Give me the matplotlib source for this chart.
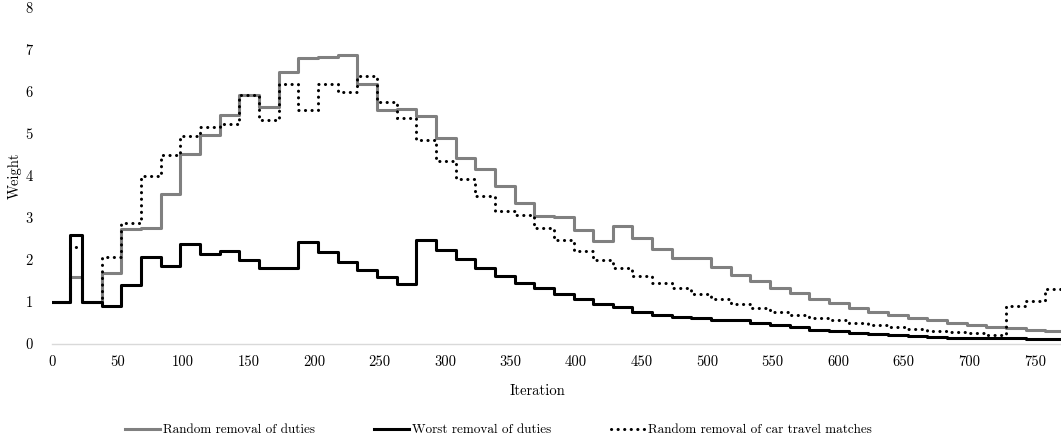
import matplotlib
matplotlib.use("Agg")
import matplotlib.pyplot as plt

plt.rcParams['font.family'] = ['cmr10', 'DejaVu Serif']
plt.rcParams['mathtext.fontset'] = 'cm'
plt.rcParams['axes.formatter.use_mathtext'] = True

# iteration at which each weight segment starts (last value = end of run)
iter_edges = [0, 14, 23, 38, 53, 68, 83, 98, 113, 128, 143, 158, 173, 188,
              203, 218, 233, 248, 263, 278, 293, 308, 323, 338, 353, 368,
              383, 398, 413, 428, 443, 458, 473, 488, 503, 518, 533, 548,
              563, 578, 593, 608, 623, 638, 653, 668, 683, 698, 713, 728,
              743, 758, 770]

random_duties = [1.0, 1.6, 1.0, 1.69, 2.74, 2.76, 3.58, 4.52, 4.98, 5.46,
                 5.92, 5.63, 6.47, 6.81, 6.84, 6.87, 6.18, 5.57, 5.59, 5.43,
                 4.90, 4.42, 4.16, 3.76, 3.36, 3.05, 3.03, 2.72, 2.45, 2.80,
                 2.52, 2.27, 2.05, 2.04, 1.83, 1.65, 1.49, 1.33, 1.20, 1.08,
                 0.97, 0.86, 0.77, 0.69, 0.61, 0.56, 0.49, 0.45, 0.41, 0.37,
                 0.34, 0.30]

worst_duties = [1.0, 2.6, 1.0, 0.9, 1.4, 2.07, 1.85, 2.37, 2.13, 2.22,
                2.0, 1.8, 1.8, 2.42, 2.18, 1.96, 1.77, 1.59, 1.43, 2.48,
                2.24, 2.01, 1.81, 1.62, 1.46, 1.32, 1.18, 1.06, 0.96, 0.87,
                0.77, 0.68, 0.64, 0.62, 0.57, 0.57, 0.49, 0.44, 0.39, 0.34,
                0.30, 0.26, 0.23, 0.21, 0.18, 0.17, 0.15, 0.13, 0.13, 0.13,
                0.11, 0.11]

random_car = [1.0, 2.3, 1.0, 2.08, 2.88, 4.0, 4.5, 4.95, 5.16, 5.24,
              5.92, 5.32, 6.18, 5.58, 6.2, 6.0, 6.39, 5.76, 5.38, 4.86,
              4.35, 3.92, 3.53, 3.16, 3.06, 2.75, 2.47, 2.22, 2.0, 1.80,
              1.62, 1.46, 1.32, 1.18, 1.06, 0.95, 0.85, 0.77, 0.69, 0.61,
              0.57, 0.50, 0.45, 0.40, 0.36, 0.31, 0.28, 0.25, 0.22, 0.90,
              1.03, 1.31]

labels = ['Random removal of duties', 'Worst removal of duties',
          'Random removal of car travel matches']

xticks = [0, 50, 100, 150, 200, 250, 300, 350, 400, 450, 500, 550, 600, 650, 700, 750]
yticks = [0, 1, 2, 3, 4, 5, 6, 7, 8]

fig = plt.figure(figsize=(10.61, 4.42), dpi=100)
ax = fig.add_axes([0.049, 0.222, 0.951, 0.76])

# step plots: repeat last value so the final segment reaches the end
ax.step(iter_edges, random_duties + random_duties[-1:], where='post',
        color='#808080', lw=2.2, label=labels[0])
ax.step(iter_edges, worst_duties + worst_duties[-1:], where='post',
        color='black', lw=2.2, label=labels[1])
ax.step(iter_edges, random_car + random_car[-1:], where='post',
        color='black', lw=2.2, linestyle=(0, (0.05, 2.1)),
        dash_capstyle='round', label=labels[2])

ax.set_xlim(0, 770)
ax.set_ylim(0, 8)
ax.set_xticks(xticks, [str(v) for v in xticks])
ax.set_yticks(yticks, [str(v) for v in yticks])
ax.tick_params(length=0, labelsize=10.5)
ax.tick_params(axis='x', pad=8)
ax.tick_params(axis='y', pad=14)
for s in ['left', 'right', 'top']:
    ax.spines[s].set_visible(False)
ax.spines['bottom'].set_color('#d9d9d9')
ax.spines['bottom'].set_linewidth(1.0)

ax.set_xlabel('Iteration', fontsize=10.5)
ax.xaxis.set_label_coords(0.481, -0.12)
ax.set_ylabel('Weight', fontsize=10.5)
ax.yaxis.set_label_coords(-0.03, 0.5)

fig.legend(loc='lower center', bbox_to_anchor=(0.47, -0.014), ncol=3, frameon=False,
           fontsize=9.5, handlelength=2.6, columnspacing=4.5, handletextpad=0.25)

fig.savefig('out.png', dpi=100)
